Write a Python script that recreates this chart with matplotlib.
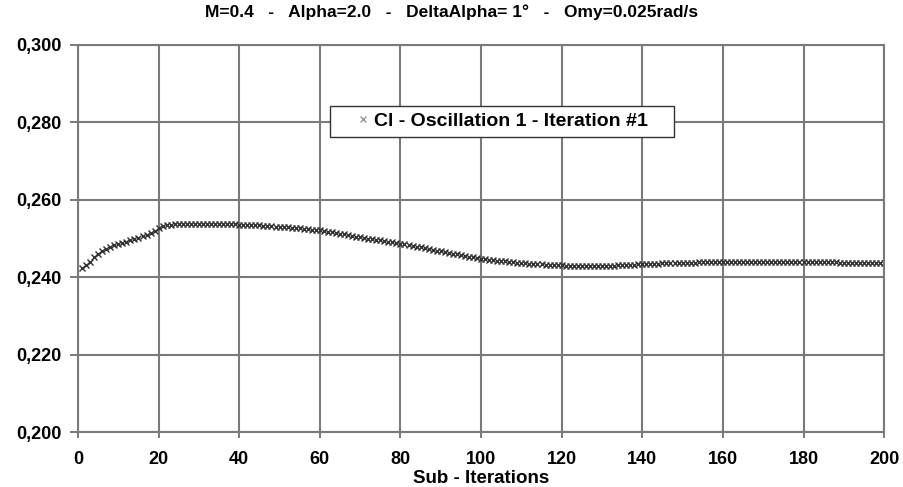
import matplotlib
matplotlib.use("Agg")
import matplotlib.pyplot as plt
from matplotlib.ticker import FuncFormatter

title = "M=0.4   -   Alpha=2.0   -   DeltaAlpha= 1°   -   Omy=0.025rad/s"
series_label = "Cl - Oscillation 1 - Iteration #1"
x_label = "Sub - Iterations"

sub_iterations = list(range(1, 201))
cl_values = [
    0.2425, 0.2431, 0.2440, 0.2451, 0.2460, 0.2467, 0.2473, 0.2478, 0.2482, 0.2486,
    0.2489, 0.2492, 0.2495, 0.2498, 0.2502, 0.2506, 0.2510, 0.2515, 0.2520, 0.2526,
    0.2532, 0.2535, 0.2536, 0.2537, 0.2537, 0.2537, 0.2537, 0.2537, 0.2537, 0.2537,
    0.2537, 0.2537, 0.2537, 0.2537, 0.2537, 0.2537, 0.2537, 0.2537, 0.2537, 0.2536,
    0.2536, 0.2536, 0.2535, 0.2535, 0.2534, 0.2533, 0.2533, 0.2532, 0.2531, 0.2530,
    0.2529, 0.2529, 0.2528, 0.2527, 0.2526, 0.2525, 0.2524, 0.2523, 0.2522, 0.2521,
    0.2519, 0.2518, 0.2516, 0.2514, 0.2512, 0.2511, 0.2509, 0.2507, 0.2505, 0.2504,
    0.2502, 0.2500, 0.2498, 0.2497, 0.2495, 0.2493, 0.2492, 0.2490, 0.2488, 0.2487,
    0.2485, 0.2483, 0.2481, 0.2479, 0.2477, 0.2475, 0.2473, 0.2471, 0.2469, 0.2467,
    0.2465, 0.2463, 0.2461, 0.2459, 0.2457, 0.2455, 0.2453, 0.2451, 0.2450, 0.2448,
    0.2447, 0.2445, 0.2444, 0.2443, 0.2442, 0.2441, 0.2440, 0.2439, 0.2438, 0.2437,
    0.2436, 0.2435, 0.2434, 0.2434, 0.2433, 0.2432, 0.2432, 0.2431, 0.2431, 0.2431,
    0.2430, 0.2430, 0.2430, 0.2430, 0.2430, 0.2430, 0.2430, 0.2430, 0.2430, 0.2430,
    0.2430, 0.2430, 0.2430, 0.2431, 0.2431, 0.2431, 0.2432, 0.2432, 0.2433, 0.2433,
    0.2434, 0.2434, 0.2435, 0.2435, 0.2436, 0.2436, 0.2437, 0.2437, 0.2437, 0.2438,
    0.2438, 0.2438, 0.2438, 0.2439, 0.2439, 0.2439, 0.2439, 0.2439, 0.2440, 0.2440,
    0.2440, 0.2440, 0.2440, 0.2440, 0.2440, 0.2440, 0.2440, 0.2440, 0.2440, 0.2440,
    0.2440, 0.2440, 0.2440, 0.2440, 0.2440, 0.2440, 0.2440, 0.2440, 0.2440, 0.2440,
    0.2440, 0.2440, 0.2440, 0.2439, 0.2439, 0.2439, 0.2439, 0.2439, 0.2438, 0.2438,
    0.2438, 0.2438, 0.2438, 0.2438, 0.2438, 0.2438, 0.2438, 0.2438, 0.2438, 0.2438,
]

x_ticks = [0, 20, 40, 60, 80, 100, 120, 140, 160, 180, 200]
y_ticks = [0.200, 0.220, 0.240, 0.260, 0.280, 0.300]

plt.rcParams["font.family"] = ["Liberation Sans", "DejaVu Sans"]
plt.rcParams["font.weight"] = "bold"

fig = plt.figure(figsize=(9.04, 4.87), dpi=100)
ax = fig.add_axes([0.0863, 0.1129, 0.8917, 0.7947])

ax.plot(sub_iterations, cl_values, linestyle="none", marker="x", markersize=4.5,
        markeredgewidth=1.0, color="#333333", label=series_label)

ax.set_xlim(0, 200)
ax.set_ylim(0.200, 0.300)
ax.set_xticks(x_ticks)
ax.set_yticks(y_ticks)
ax.yaxis.set_major_formatter(FuncFormatter(lambda v, p: f"{v:.3f}".replace(".", ",")))
ax.grid(True, color="#7a7a7a", linewidth=1.5)
ax.set_axisbelow(True)
for s in ax.spines.values():
    s.set_color("#7a7a7a")
    s.set_linewidth(1.5)
ax.tick_params(axis="y", labelsize=13, colors="#7a7a7a", labelcolor="black",
               length=6, width=1.4, pad=6)
ax.tick_params(axis="x", labelsize=13, colors="#7a7a7a", labelcolor="black",
               length=4, width=1.4, pad=10)
for lab in ax.get_xticklabels() + ax.get_yticklabels():
    lab.set_fontweight("bold")

ax.set_xlabel(x_label, fontsize=13.5, fontweight="bold", labelpad=1)
fig.suptitle(title, x=0.5, y=0.99, fontsize=12.5, fontweight="bold")

leg = ax.legend(loc="center", bbox_to_anchor=(0.526, 0.803), frameon=True, fancybox=False,
                framealpha=1, edgecolor="#333333", fontsize=14, handlelength=0.7,
                handletextpad=0.25, borderpad=0.35, borderaxespad=0, markerscale=1.0)
frame = leg.get_frame()
frame.set_linewidth(1.0)
frame.set_boxstyle("square", pad=1.0)
frame.set_mutation_aspect(0.001)
for t in leg.get_texts():
    t.set_fontweight("bold")
for h in leg.legend_handles:
    h.set_color("#9a9a9a")

fig.savefig("out.png", dpi=100)
